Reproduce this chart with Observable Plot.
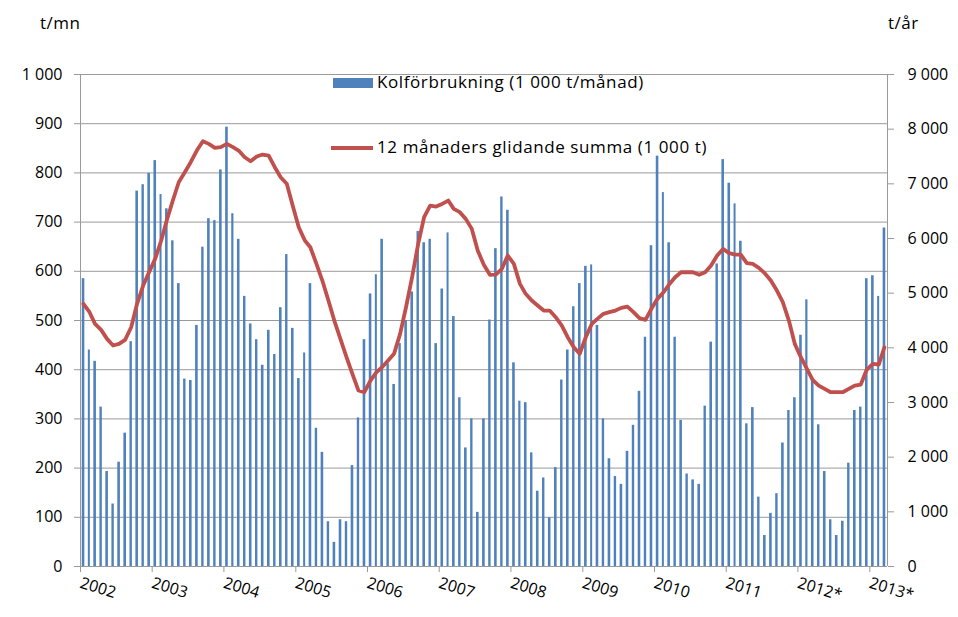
<!DOCTYPE html>
<html>
<head>
<meta charset="utf-8">
<script src="https://cdn.jsdelivr.net/npm/d3@7"></script>
<script src="https://cdn.jsdelivr.net/npm/@observablehq/plot@0.6"></script>
<style>
  body { margin: 0; background: #fff; }
  #wrap { position: relative; width: 958px; height: 617px; font-family: "Open Sans", sans-serif; color: #000; }
  .lab { position: absolute; font-size: 16px; white-space: nowrap; }
  .leg { position: absolute; font-size: 17px; letter-spacing: 0.6px; white-space: nowrap; }
</style>
</head>
<body>
<div id="wrap">
  <div class="lab" style="left:40px; top:11px; font-size:17px; letter-spacing:0.5px;">t/mn</div>
  <div class="lab" style="left:888px; top:11px; font-size:17px; letter-spacing:0.5px;">t/år</div>
  <div style="position:absolute; left:333px; top:78px; width:40px; height:10px; background:#4F81BD;"></div>
  <div class="leg" style="left:377px; top:70px;">Kolförbrukning (1 000 t/månad)</div>
  <div style="position:absolute; left:331px; top:146px; width:42px; height:4px; background:#C0504D;"></div>
  <div class="leg" style="left:377px; top:135px;">12 månaders glidande summa (1 000 t)</div>
</div>
<script>
const startYear = 2002;
const years = [2002, 2003, 2004, 2005, 2006, 2007, 2008, 2009, 2010, 2011, 2012, 2013];
const yearLabels = ["2002", "2003", "2004", "2005", "2006", "2007", "2008", "2009", "2010", "2011", "2012*", "2013*"];

// Monthly coal consumption (1 000 t/month), Jan 2002 – Mar 2013
const monthly = [
  585, 440, 417, 324, 193, 127, 212, 271, 457, 763, 776, 799,
  825, 756, 727, 662, 575, 381, 378, 490, 649, 707, 703, 806,
  893, 717, 665, 549, 493, 461, 409, 480, 431, 526, 634, 484,
  382, 434, 575, 281, 232, 91, 49, 95, 91, 205, 302, 461,
  554, 593, 665, 412, 370, 453, 500, 558, 681, 658, 665, 453,
  564, 678, 508, 343, 241, 300, 110, 300, 501, 646, 751, 724,
  414, 336, 333, 231, 153, 180, 99, 201, 379, 440, 528, 575,
  610, 613, 490, 300, 219, 183, 167, 234, 287, 356, 466, 652,
  834, 760, 658, 466, 297, 188, 176, 167, 326, 456, 615, 827,
  779, 737, 661, 290, 323, 141, 63, 108, 148, 251, 317, 343,
  470, 542, 379, 288, 193, 95, 63, 92, 210, 317, 324, 585,
  591, 549, 688
];

// 12-month moving sum (1 000 t), right axis
const rolling = [
  4805, 4652, 4439, 4329, 4164, 4042, 4073, 4146, 4377, 4805, 5139, 5383,
  5627, 5963, 6328, 6694, 7029, 7212, 7395, 7609, 7779, 7731, 7658, 7670,
  7731, 7670, 7609, 7487, 7413, 7499, 7536, 7517, 7304, 7121, 7000, 6603,
  6206, 5963, 5840, 5536, 5231, 4865, 4499, 4164, 3829, 3524, 3219, 3188,
  3402, 3554, 3645, 3768, 3890, 4256, 4743, 5292, 5902, 6389, 6603, 6584,
  6633, 6694, 6542, 6481, 6359, 6176, 5780, 5520, 5335, 5341, 5445, 5688,
  5536, 5170, 4988, 4865, 4774, 4682, 4682, 4560, 4408, 4194, 4011, 3890,
  4194, 4439, 4530, 4622, 4652, 4682, 4731, 4755, 4652, 4542, 4512, 4713,
  4896, 5017, 5158, 5292, 5383, 5383, 5383, 5335, 5383, 5505, 5688, 5810,
  5731, 5706, 5706, 5548, 5536, 5463, 5365, 5231, 5048, 4835, 4499, 4073,
  3829, 3616, 3414, 3310, 3250, 3188, 3188, 3188, 3250, 3310, 3329, 3598,
  3707, 3695, 4011
];

const leftTicks = [0, 100, 200, 300, 400, 500, 600, 700, 800, 900, 1000];
const rightTicks = [0, 1000, 2000, 3000, 4000, 5000, 6000, 7000, 8000, 9000];
const ratio = 9; // right max / left max

const fmt = v => d3.format(",")(v).replace(/,/g, " ");

const data = monthly.map((v, i) => ({
  start: new Date(Date.UTC(startYear, i, 1)),
  end: new Date(Date.UTC(startYear, i + 1, 1)),
  mid: new Date(Date.UTC(startYear, i, 16)),
  value: v,
  sum: rolling[i]
}));

const xDomain = [data[0].start, data[data.length - 1].end];
const yearDates = years.map(y => new Date(Date.UTC(y, 0, 1)));
const labelOf = new Map(years.map((y, i) => [y, yearLabels[i]]));
const gray = "#9a9a9a";

const chart = Plot.plot({
  width: 958,
  height: 617,
  marginLeft: 80,
  marginRight: 71,
  marginTop: 74,
  marginBottom: 51,
  style: { fontFamily: "Open Sans, sans-serif", fontSize: "16px", color: "#000", background: "transparent", overflow: "visible" },
  x: { type: "utc", domain: xDomain },
  y: { domain: [0, 1000] },
  marks: [
    Plot.gridY(leftTicks, { stroke: gray, strokeOpacity: 1 }),
    Plot.ruleX(xDomain, { stroke: gray, strokeOpacity: 1 }),
    Plot.rectY(data, { x1: "start", x2: "end", y: "value", fill: "#4F81BD", insetLeft: 1.75, insetRight: 1.75 }),
    Plot.line(data, { x: "mid", y: d => d.sum / ratio, stroke: "#C0504D", strokeWidth: 3.8, curve: "linear" }),
    Plot.axisY(leftTicks, { anchor: "left", tickSize: 6, tickPadding: 12, stroke: gray, tickFormat: fmt, label: null }),
    Plot.axisY(rightTicks.map(v => v / ratio), { anchor: "right", tickSize: 6, tickPadding: 14, stroke: gray, tickFormat: d => fmt(Math.round(d * ratio)), textAnchor: "start", label: null }),
    Plot.axisX(yearDates, { anchor: "bottom", tickSize: 6, tickPadding: 10, stroke: gray, tickRotate: 17, tickFormat: d => labelOf.get(d.getUTCFullYear()), label: null })
  ]
});
chart.style.position = "absolute";
chart.style.left = "0px";
chart.style.top = "0px";
document.getElementById("wrap").prepend(chart);
</script>
</body>
</html>
